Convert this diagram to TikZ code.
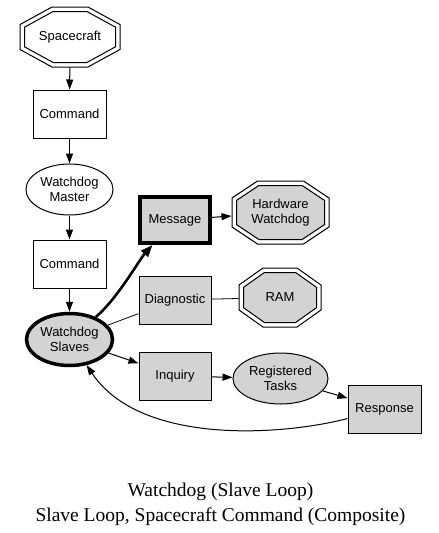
\documentclass[tikz,border=0pt]{standalone}
\usepackage{fontspec}
\setmainfont{Liberation Serif}
\newfontfamily\nodefont{Liberation Sans}
\usetikzlibrary{arrows.meta,calc,shapes.geometric}
\definecolor{lgray}{RGB}{211,211,211}

% double octagon outline around a (undrawn) node
% #1 node, #2 half width, #3 half height, #4 half top edge, #5 half side edge, #6 inner fill
\newcommand{\dbloct}[6]{%
  \pgfmathsetmacro\oDx{#2-#4}\pgfmathsetmacro\oDy{#3-#5}%
  \pgfmathsetmacro\oL{sqrt(\oDx*\oDx+\oDy*\oDy)}%
  \pgfmathsetmacro\oNx{\oDy/\oL}\pgfmathsetmacro\oNy{\oDx/\oL}%
  \pgfmathsetmacro\oC{\oNx*#4+\oNy*#3-4.5}%
  \pgfmathsetmacro\oHH{#3-4.5}\pgfmathsetmacro\oHW{#2-4.5}%
  \pgfmathsetmacro\oA{(\oC-\oNy*\oHH)/\oNx}%
  \pgfmathsetmacro\oB{(\oC-\oNx*\oHW)/\oNy}%
  \begin{scope}[shift={(#1)}]
    \draw[octline] (-#4,-#3) -- (#4,-#3) -- (#2,-#5) -- (#2,#5) -- (#4,#3) -- (-#4,#3) -- (-#2,#5) -- (-#2,-#5) -- cycle;
    \draw[octline,fill=#6] (-\oA,-\oHH) -- (\oA,-\oHH) -- (\oHW,-\oB) -- (\oHW,\oB) -- (\oA,\oHH) -- (-\oA,\oHH) -- (-\oHW,\oB) -- (-\oHW,-\oB) -- cycle;
  \end{scope}}

\begin{document}
\begin{tikzpicture}[x=1pt,y=-1pt,
  base/.style={font=\nodefont\fontsize{13}{15}\selectfont, align=center, inner sep=0pt, line width=1pt},
  box/.style={base, draw, rectangle, minimum width=73, minimum height=48},
  gbox/.style={box, fill=lgray},
  ell/.style={base, draw, ellipse, minimum width=87, minimum height=51},
  oct/.style={base, rectangle},
  octline/.style={line width=1pt},
  arr/.style={line width=1pt, -{Triangle[length=10pt,width=7pt]}},
  thickarr/.style={line width=2.6pt, -{Triangle[length=12pt,width=9pt]}},
  plain/.style={line width=0.8pt}
]
\useasboundingbox (0,0) rectangle (439,533);

% nodes
\node[oct, minimum width=100, minimum height=60] (spacecraft) at (70,37) {Spacecraft};
\node[box] (cmd1) at (69.5,114) {Command};
\node[ell] (master) at (69.5,189.5) {Watchdog\\Master};
\node[box] (cmd2) at (69.5,264) {Command};
\node[ell, fill=lgray, line width=3.5pt, minimum width=86, minimum height=52] (slaves) at (69.5,339.5) {Watchdog\\Slaves};
\node[gbox, line width=4pt, minimum width=70, minimum height=46] (message) at (175,220) {Message};
\node[oct, minimum width=97, minimum height=63] (hw) at (280.5,212.5) {};
\node[gbox, minimum width=72] (diag) at (175,300) {Diagnostic};
\node[oct, minimum width=82, minimum height=59] (ram) at (280,297.5) {};
\node[gbox, minimum width=72] (inquiry) at (175,376) {Inquiry};
\node[ell, fill=lgray, minimum width=95, minimum height=51] (tasks) at (280.5,378.5) {Registered\\Tasks};
\node[gbox] (response) at (384.5,409) {Response};

% octagon outlines
\dbloct{spacecraft}{50}{30}{18}{12.5}{white}
\dbloct{hw}{48.5}{31.5}{23}{14.5}{lgray}
\dbloct{ram}{41}{29.5}{17}{12.5}{lgray}
\node[base] at (spacecraft) {Spacecraft};
\node[base] at (hw) {Hardware\\Watchdog};
\node[base] at (ram) {RAM};

% edges
\draw[arr] (spacecraft) -- (cmd1);
\draw[arr] (cmd1) -- (master);
\draw[arr] (master) -- (cmd2);
\draw[arr] (cmd2) -- (slaves);
\draw[thickarr] (slaves) .. controls (118,298) and (139,260) .. (message);
\draw[arr] (message) -- (hw);
\draw[plain] (slaves) -- (diag);
\draw[plain] (diag) -- (ram);
\draw[arr] (slaves) -- (inquiry);
\draw[arr] (inquiry) -- (tasks);
\draw[arr] (tasks) -- (response);
\draw[arr] (response) .. controls (280,436) and (140,445) .. (slaves);

% caption
\node[font=\fontsize{19.5}{25}\selectfont, align=center, inner sep=0pt] (title) at (220.5,504)
  {Watchdog (Slave Loop)\\Slave Loop, Spacecraft Command (Composite)};
\end{tikzpicture}
\end{document}
